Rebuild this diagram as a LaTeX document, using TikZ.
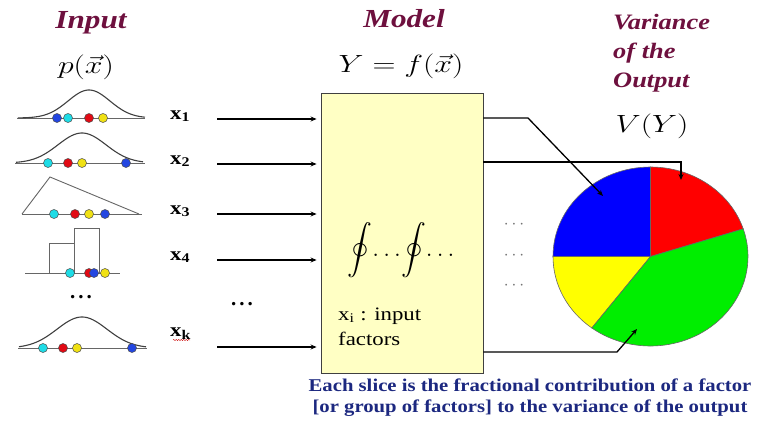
\documentclass[tikz,border=0pt]{standalone}
\usepackage{exscale}
\usepackage{fontspec}
\setmainfont{Liberation Serif}
\usetikzlibrary{arrows.meta,decorations.pathmorphing}
\definecolor{titlec}{RGB}{110,16,62}
\definecolor{navy}{RGB}{28,40,128}
\definecolor{boxfill}{RGB}{255,255,196}
\definecolor{dblue}{RGB}{35,70,225}
\definecolor{dcyan}{RGB}{30,220,230}
\definecolor{dred}{RGB}{225,10,20}
\definecolor{dyellow}{RGB}{240,225,20}
\definecolor{pblue}{RGB}{0,0,255}
\definecolor{pred}{RGB}{255,0,0}
\definecolor{pgreen}{RGB}{0,238,0}
\definecolor{pyellow}{RGB}{255,255,0}
\tikzset{
  titletxt/.style={font=\fontsize{26}{30}\selectfont\bfseries\itshape, text=titlec, inner sep=0pt},
  vartxt/.style={font=\fontsize{22}{26}\selectfont\bfseries\itshape, text=titlec, inner sep=0pt, anchor=base west},
  mathtxt/.style={font=\fontsize{28}{31}\selectfont, inner sep=0pt},
  xlab/.style={font=\fontsize{19}{22}\selectfont\bfseries, inner sep=0pt, anchor=base west},
  curve/.style={draw=black!75, line width=1.1pt},
  base/.style={draw=black!60, line width=0.9pt},
  ball/.style={draw=black!70, line width=0.5pt},
  conn/.style={draw=black, line width=1.3pt, -{Stealth[length=6pt,width=5pt]}},
  pieedge/.style={draw=black!60, line width=0.6pt},
  bottomtxt/.style={font=\fontsize{18}{21}\selectfont\bfseries, text=navy, inner sep=0pt, anchor=base},
  bdots/.style={font=\fontsize{21}{23}\selectfont\bfseries, inner sep=0pt},
  gdots/.style={font=\fontsize{18}{20}\selectfont, text=black!55, inner sep=0pt}
}
\newcommand\myball[3]{\fill[#1, ball] (#2,#3) circle (4.5);}
\begin{document}
\begin{tikzpicture}[x=1pt,y=-1pt]
\useasboundingbox (0,0) rectangle (757,428);
\fill[white] (0,0) rectangle (757,428);

% titles
\node[titletxt, anchor=base] (tin) at (91,29) {\scalebox{1.2}[1]{Input}};
\node[titletxt, anchor=base] (tmod) at (404,28) {\scalebox{1.2}[1]{Model}};
\node[vartxt] (tv1) at (613,30) {\scalebox{1.2}[1]{Variance}};
\node[vartxt] (tv2) at (613,59) {\scalebox{1.2}[1]{of the}};
\node[vartxt] (tv3) at (613,88) {\scalebox{1.2}[1]{Output}};

\node[mathtxt] (px) at (86,67) {\scalebox{1.28}[1]{$p(\vec{x})$}};
\node[mathtxt] (yfx) at (401,66) {\scalebox{1.28}[1]{$Y=f(\vec{x})$}};
\node[mathtxt] (vy) at (652,126) {\scalebox{1.28}[1]{$V(Y)$}};

% distribution 1
\draw[base] (17,118) -- (145,118);
\draw[curve] plot[domain=18:145, samples=90] (\x, {118-28*exp(-((\x-89)^2)/(2*21^2))});
\myball{dblue}{57}{118}
\myball{dcyan}{68}{118}
\myball{dred}{89}{118}
\myball{dyellow}{103}{118}

% distribution 2
\draw[base] (15,163) -- (145,163);
\draw[curve] plot[domain=16:143, samples=90] (\x, {163-30*exp(-((\x-82)^2)/(2*24^2))});
\myball{dcyan}{48}{163}
\myball{dred}{68}{163}
\myball{dyellow}{82}{163}
\myball{dblue}{126}{163}

% triangle
\draw[base] (22,214) -- (142,214);
\draw[base] (22,214) -- (50,177) -- (139,214);
\myball{dcyan}{54}{214}
\myball{dred}{75}{214}
\myball{dyellow}{89}{214}
\myball{dblue}{105}{214}

% histogram
\draw[base] (25,273) -- (120,273);
\draw[base] (49,273) -- (49,243) -- (74,243) -- (74,273);
\draw[base] (74,243) -- (74,228) -- (99,228) -- (99,273);
\myball{dcyan}{70}{273}
\myball{dred}{89}{273}
\myball{dblue}{94}{273}
\myball{dyellow}{105}{273}

\node[bdots] (ld) at (81,297) {.\hspace{3pt}.\hspace{3pt}.};

% distribution k
\draw[base] (18,348) -- (147,348);
\draw[curve] plot[domain=19:146, samples=90] (\x, {348-31*exp(-((\x-82)^2)/(2*25^2))});
\myball{dcyan}{43}{348}
\myball{dred}{63}{348}
\myball{dyellow}{77}{348}
\myball{dblue}{132}{348}

% labels
\node[xlab] (l1) at (170,119) {\scalebox{1.2}[1]{x\textsubscript{1}}};
\node[xlab] (l2) at (170,164) {\scalebox{1.2}[1]{x\textsubscript{2}}};
\node[xlab] (l3) at (170,214) {\scalebox{1.2}[1]{x\textsubscript{3}}};
\node[xlab] (l4) at (170,260) {\scalebox{1.2}[1]{x\textsubscript{4}}};
\node[xlab] (lk) at (170,336) {\scalebox{1.2}[1]{x\textsubscript{k}}};
\draw[red!80!black, line width=0.4pt, decorate, decoration={snake, amplitude=0.6pt, segment length=2.5pt}] (173,340) -- (190,340);
\node[bdots] (md) at (242,304) {.\hspace{3pt}.\hspace{3pt}.};

% model box
\node[draw=black!75, fill=boxfill, line width=0.9pt, minimum width=162pt, minimum height=280pt, inner sep=0pt] (model) at (402,233) {};
\node[font=\fontsize{30}{34}\selectfont, inner sep=0pt] (integ) at (401,250) {$\displaystyle\oint\!\ldots\!\oint\!\ldots$};
\node[font=\fontsize{19}{22}\selectfont, inner sep=0pt, anchor=base west] (xi) at (338,320) {\scalebox{1.2}[1]{x\textsubscript{i} : input}};
\node[font=\fontsize{19}{22}\selectfont, inner sep=0pt, anchor=base west] (fac) at (338,345) {\scalebox{1.2}[1]{factors}};

% input arrows
\coordinate (s1) at (217,119);
\coordinate (s2) at (217,164);
\coordinate (s3) at (217,214);
\coordinate (s4) at (217,260);
\coordinate (sk) at (217,347);
\foreach \s in {s1,s2,s3,s4,sk}
  \draw[conn, shorten >=4pt] (\s) -- (model.west |- \s);

% vertical dots
\node[gdots] (v1) at (514,225) {$\cdots$};
\node[gdots] (v2) at (514,256) {$\cdots$};
\node[gdots] (v3) at (514,286) {$\cdots$};

% pie
\coordinate (pc) at (650.5,256.5);
\filldraw[pieedge, fill=pblue] (pc) -- ++(-90:97.5 and 89.5) arc[start angle=-90, end angle=-180, x radius=97.5, y radius=89.5] -- cycle;
\filldraw[pieedge, fill=pred] (pc) -- ++(-18:97.5 and 89.5) arc[start angle=-18, end angle=-90, x radius=97.5, y radius=89.5] -- cycle;
\filldraw[pieedge, fill=pyellow] (pc) -- ++(-180:97.5 and 89.5) arc[start angle=-180, end angle=-233, x radius=97.5, y radius=89.5] -- cycle;
\filldraw[pieedge, fill=pgreen] (pc) -- ++(-233:97.5 and 89.5) arc[start angle=-233, end angle=-378, x radius=97.5, y radius=89.5] -- cycle;

% output connectors
\coordinate (b1) at (528,118);
\coordinate (t1) at (603,196);
\coordinate (b2) at (681,162);
\coordinate (t2) at (681,180);
\coordinate (b3) at (617,352);
\coordinate (t3) at (637,329);
\draw[conn] (model.east |- b1) -- (b1) -- (t1);
\draw[conn] (model.east |- b2) -- (b2) -- (t2);
\draw[conn] (model.east |- b3) -- (b3) -- (t3);

% bottom text
\node[bottomtxt] (bt1) at (530,391) {\scalebox{1.15}[1]{Each slice is the fractional contribution of a factor}};
\node[bottomtxt] (bt2) at (530,412) {\scalebox{1.15}[1]{[or group of factors] to the variance of the output}};
\end{tikzpicture}
\end{document}
